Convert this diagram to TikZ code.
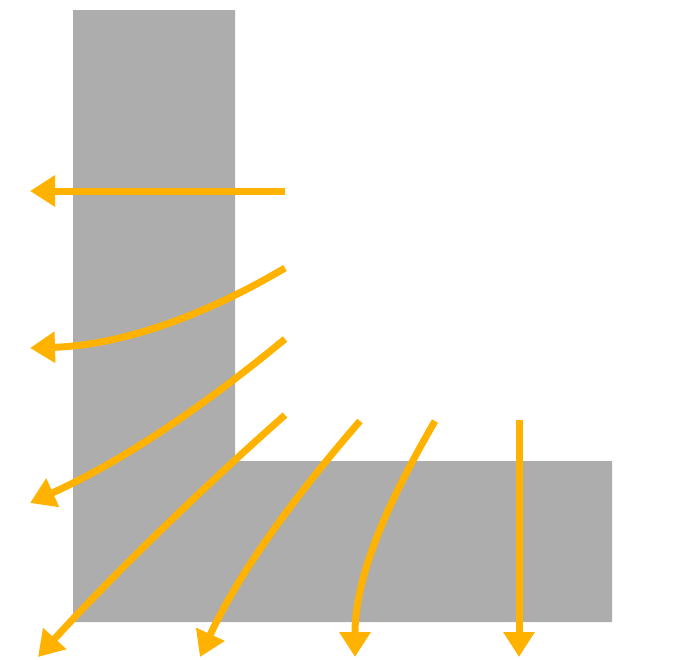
\documentclass[tikz,border=0pt]{standalone}
\usetikzlibrary{arrows.meta}
\definecolor{wallgray}{HTML}{ADADAD}
\definecolor{flow}{HTML}{FFB300}
\begin{document}
\begin{tikzpicture}[x=1pt,y=-1pt,
  wall/.style={fill=wallgray,draw=none},
  flowarrow/.style={draw=flow,line width=7pt,-{Triangle[length=25pt,width=30pt]}}]
\useasboundingbox[fill=white] (0,0) rectangle (684,659);
% L-shaped wall
\fill[wallgray] (73,10) -- (235,10) -- (235,461) -- (612,461) -- (612,622) -- (73,622) -- cycle;
% flow arrows
\draw[flowarrow] (285,191) -- (30,191);
\draw[flowarrow] (285,268) .. controls (180,330) and (100,346) .. (30,348);
\draw[flowarrow] (285,339) .. controls (205,405) and (125,460) .. (30,503);
\draw[flowarrow] (285,415) .. controls (200,490) and (110,578) .. (38,657);
\draw[flowarrow] (360,421) .. controls (300,490) and (240,570) .. (200,657);
\draw[flowarrow] (435,421) .. controls (395,490) and (355,570) .. (355,657);
\draw[flowarrow] (519,420) -- (519,657);
\end{tikzpicture}
\end{document}
